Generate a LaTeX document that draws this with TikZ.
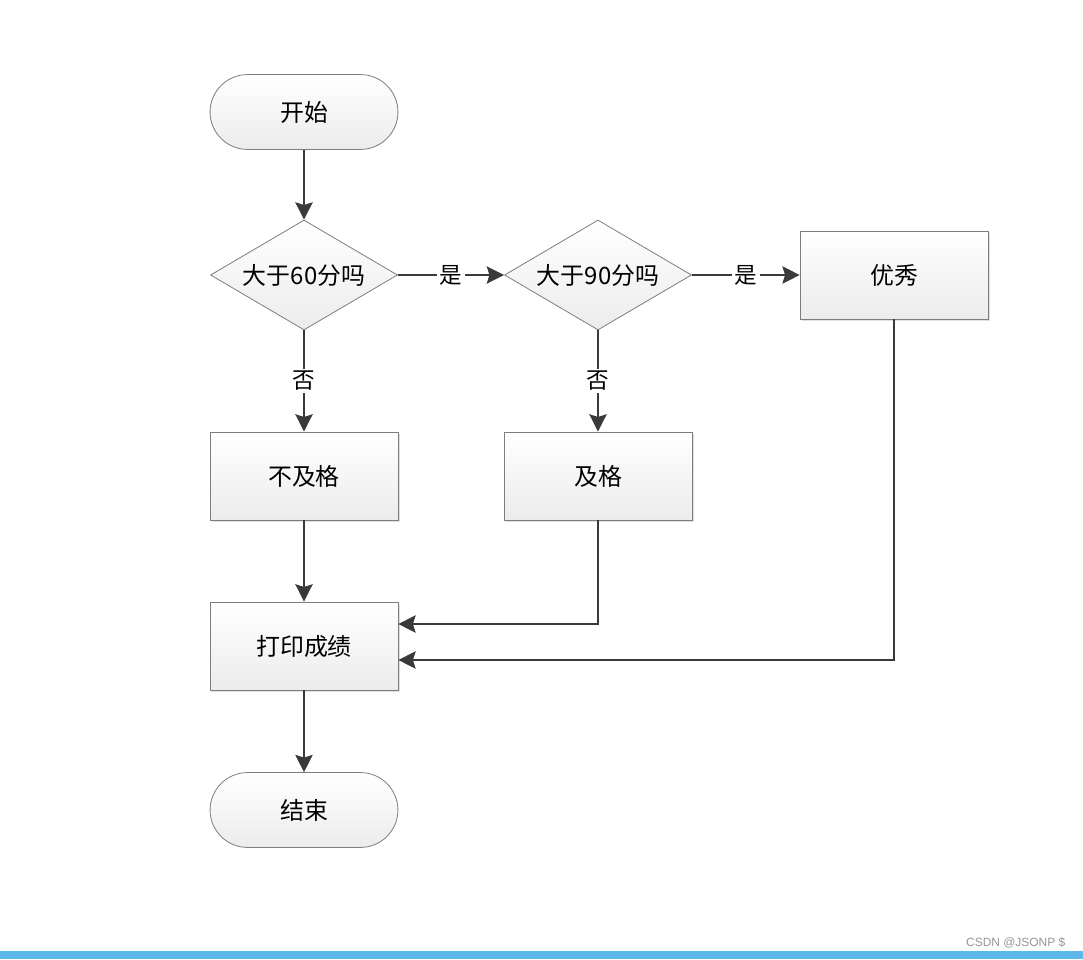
\documentclass[tikz,border=0pt]{standalone}
\usepackage{fontspec}
\setmainfont{Noto Sans CJK SC}
\newfontfamily\wmfont{Liberation Sans}
\usepackage{tikz}
\usetikzlibrary{arrows.meta,shapes.geometric,calc,shadows}
\definecolor{cline}{RGB}{58,58,58}
\definecolor{cborder}{RGB}{125,125,125}
\definecolor{cfill}{RGB}{236,236,236}
\definecolor{cbar}{RGB}{92,184,232}
\definecolor{cmark}{RGB}{150,150,150}
\tikzset{
  base/.style={draw=cborder, line width=0.6pt, top color=white, bottom color=cfill,
    font=\fontsize{18}{22}\selectfont, inner sep=0pt},
  term/.style={base, rectangle, rounded corners=0.99cm,
    minimum width=4.97cm, minimum height=1.98cm},
  proc/.style={base, rectangle, minimum width=4.97cm, minimum height=2.33cm,
    drop shadow={opacity=0.25, shadow xshift=1.5pt, shadow yshift=-1.5pt}},
  dec/.style={base, diamond, minimum width=4.95cm, minimum height=2.91cm},
  dtext/.style={font=\fontsize{18}{22}\selectfont},
  arr/.style={-{Stealth[length=13pt, width=13pt, inset=2pt]}, line width=1.5pt, color=cline},
  lbl/.style={fill=white, text=black, font=\fontsize{17}{20}\selectfont, inner sep=2pt}
}

\begin{document}
\begin{tikzpicture}[x=0.02646cm, y=-0.02646cm]
    \useasboundingbox (0,0) rectangle (1083,959);
    \fill[white] (0,0) rectangle (1083,959);
    % nodes
    \node[term] (start) at (304,112) {开始};
    \node[dec, label={[dtext]center:大于60分吗}] (q60) at (304,275) {};
    \node[dec, label={[dtext]center:大于90分吗}] (q90) at (598,275) {};
    \node[proc] (good) at (894,275) {优秀};
    \node[proc] (fail) at (304,476) {不及格};
    \node[proc] (pass) at (598,476) {及格};
    \node[proc] (print) at (304,646) {打印成绩};
    \node[term] (stop) at (304,810) {结束};
    % connectors
    \draw[arr] (start) -- (q60);
    \draw[arr] (q60) -- node[lbl]{是} (q90);
    \draw[arr] (q90) -- node[lbl]{是} (good);
    \draw[arr] (q60) -- node[lbl]{否} (fail);
    \draw[arr] (q90) -- node[lbl]{否} (pass);
    \draw[arr] (fail) -- (print);
    \draw[arr] (pass.south) |- ($(print.east)+(0,-22)$);
    \draw[arr] (good.south) |- ($(print.east)+(0,14)$);
    \draw[arr] (print) -- (stop);
    % screen footer
    \fill[cbar] (0,951) rectangle (1083,959);
    \node[anchor=east, text=cmark, font=\wmfont\fontsize{9}{11}\selectfont] (mark) at (1070,943) {CSDN @JSONP \$};
\end{tikzpicture}
\end{document}
